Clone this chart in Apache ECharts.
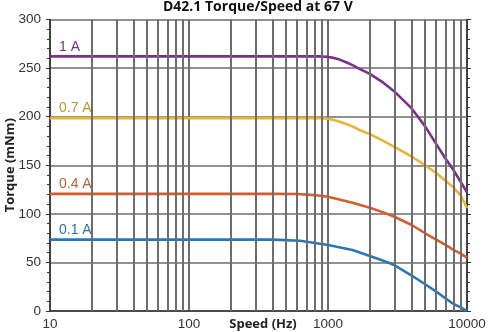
<!DOCTYPE html>
<html><head><meta charset="utf-8">
<script src="https://cdn.jsdelivr.net/npm/echarts@6/dist/echarts.min.js"></script>
<style>html,body{margin:0;padding:0;background:#fff}#c{width:488px;height:332px}</style>
</head><body><div id="c"></div>
<script>
// ---- data ----
const chartTitle = 'D42.1 Torque/Speed at 67 V';
const xName = 'Speed (Hz)';
const yName = 'Torque (mNm)';
const seriesNames = ['1 A', '0.7 A', '0.4 A', '0.1 A'];
const seriesColors = ['#7B2F8E', '#E9B433', '#D95A2B', '#2877B8'];
const labelColors = ['#76318B', '#B89538', '#C25E38', '#2D72A9'];

const speed1A = [10, 100, 500, 900, 1000, 1100, 1200, 1350, 1500, 1700, 2000, 2500, 3000, 4000, 5000, 6000, 7000, 8000, 9000, 10000];
const torque1A = [262, 262, 262, 262, 261.5, 260.5, 259, 256, 253, 249, 244, 235, 226, 208.5, 190, 172, 157, 145, 133, 122];

const speed07A = [10, 100, 500, 900, 1000, 1100, 1200, 1350, 1500, 1700, 2000, 2500, 3000, 4000, 5000, 6000, 7000, 8000, 9000, 10000];
const torque07A = [198.5, 198.5, 198.5, 198.5, 197.8, 196.5, 195, 192.5, 190, 186, 182, 175, 169, 159, 150, 142, 134, 127, 119, 106];

const speed04A = [10, 100, 400, 600, 800, 1000, 1500, 2000, 2500, 3000, 4000, 5000, 6000, 7000, 8000, 9000, 10000];
const torque04A = [120.5, 120.5, 120.5, 120.4, 119.3, 117.6, 111.4, 106.3, 101.5, 97, 88.5, 80, 73.5, 68, 63, 59, 55];

const speed01A = [10, 100, 400, 630, 1000, 1500, 2000, 2500, 3000, 4000, 5000, 6000, 7000, 8000, 9000, 10000];
const torque01A = [73.5, 73.5, 73.5, 72.3, 67.9, 62.8, 56.6, 51.8, 47.3, 36.5, 27.5, 20, 13, 7.2, 3.8, 0];

const minorGridSpeeds = [20, 30, 40, 50, 60, 70, 80, 90, 200, 300, 400, 500, 600, 700, 800, 900, 2000, 3000, 4000, 5000, 6000, 7000, 8000, 9000];

const xMin = 10, xMax = 10000;
const yMin = 0, yMax = 300, yInterval = 50;

// ---- chart ----
const speeds = [speed1A, speed07A, speed04A, speed01A];
const torques = [torque1A, torque07A, torque04A, torque01A];
const gridColor = '#6d6d6d';
const axisColor = '#333';

function makeData(xs, ys, name, color) {
  return xs.map((x, i) => {
    const item = { value: [x, ys[i]] };
    if (i === 0) {
      item.symbol = 'circle';
      item.symbolSize = 1;
      item.label = {
        show: true, formatter: name, position: 'top', align: 'left',
        distance: 2, offset: [9, 0], color: color,
        fontFamily: 'Liberation Sans', fontSize: 14
      };
    }
    return item;
  });
}

const series = [{
  type: 'line', data: [[xMin, yMin]], symbol: 'none', lineStyle: { width: 0 }, silent: true, z: 1,
  markLine: {
    silent: true, symbol: ['none', 'none'], label: { show: false },
    lineStyle: { color: gridColor, width: 2, type: 'solid' },
    data: minorGridSpeeds.map(v => ({ xAxis: v }))
  }
}];
seriesNames.forEach((n, k) => {
  series.push({
    name: n, type: 'line', symbol: 'none', showSymbol: true, smooth: false, z: 3,
    lineStyle: { color: seriesColors[k], width: 2.6, join: 'round' },
    itemStyle: { color: seriesColors[k] },
    label: { show: false },
    data: makeData(speeds[k], torques[k], n, labelColors[k])
  });
});

const yCommon = {
  type: 'value', min: yMin, max: yMax, interval: yInterval,
  axisLine: { show: true, lineStyle: { color: axisColor, width: 1.5 } },
  axisTick: { show: true, inside: false, length: 4, lineStyle: { color: axisColor } },
  minorTick: { show: true, splitNumber: 5, length: 3, lineStyle: { color: axisColor } }
};

const chart = echarts.init(document.getElementById('c'), null, { renderer: 'canvas' });
chart.setOption({
  animation: false,
  backgroundColor: '#fff',
  title: {
    text: chartTitle, left: 163, top: 0, padding: 0,
    textStyle: { fontFamily: 'Open Sans', fontWeight: 'bold', fontSize: 14, color: '#111' }
  },
  grid: { left: 50, right: 21, top: 19.5, bottom: 21, containLabel: false, outerBoundsMode: 'none' },
  xAxis: {
    type: 'log', logBase: 10, min: xMin, max: xMax,
    name: xName, nameLocation: 'middle', nameGap: 7, nameMoveOverlap: false,
    nameTextStyle: { fontFamily: 'Open Sans', fontWeight: 'bold', fontSize: 13, color: '#222', padding: [0, 0, 0, 9], verticalAlign: 'top' },
    axisLine: { show: true, lineStyle: { color: axisColor, width: 1.5 } },
    axisTick: { show: false },
    axisLabel: { fontFamily: 'Liberation Sans', fontSize: 13.5, color: axisColor, margin: 6, formatter: v => String(v) },
    splitLine: { show: true, lineStyle: { color: gridColor, width: 2 } }
  },
  yAxis: [
    Object.assign({}, yCommon, {
      position: 'left',
      name: yName, nameLocation: 'middle', nameGap: 33, nameMoveOverlap: false,
      nameTextStyle: { fontFamily: 'Open Sans', fontWeight: 'bold', fontSize: 13, color: '#222' },
      axisLabel: { fontFamily: 'Liberation Sans', fontSize: 13.5, color: axisColor, margin: 9 },
      splitLine: { show: true, lineStyle: { color: gridColor, width: 1.6 } }
    }),
    Object.assign({}, yCommon, {
      position: 'right',
      axisLabel: { show: false },
      splitLine: { show: false }
    })
  ],
  series: series
});
</script>
</body></html>
